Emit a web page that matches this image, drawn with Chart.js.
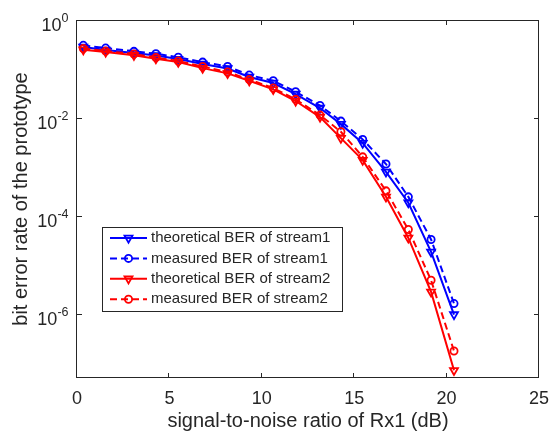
<!DOCTYPE html>
<html>
<head>
<meta charset="utf-8">
<script src="https://cdn.jsdelivr.net/npm/chart.js@4.4.1/dist/chart.umd.min.js"></script>
<style>
  body { margin: 0; background: #fff; }
  canvas { display: block; }
</style>
</head>
<body>
<canvas id="myChart" width="550" height="433"></canvas>
<script>
// SNR values (dB) of the measurement points
const snr = [0.34, 1.55, 3.08, 4.27, 5.48, 6.80, 8.15, 9.32, 10.62, 11.83, 13.15, 14.28, 15.46, 16.72, 17.93, 19.16, 20.40];
// BER curves
const berTheory1 = [0.280, 0.244, 0.211, 0.188, 0.159, 0.126, 0.102, 0.0683, 0.0515, 0.0307, 0.0159, 0.00746, 0.00305, 7.9e-4, 1.85e-4, 1.83e-5, 9.6e-7];
const berMeasured1 = [0.304, 0.267, 0.229, 0.205, 0.173, 0.138, 0.112, 0.075, 0.0574, 0.0342, 0.0179, 0.0086, 0.00364, 0.00114, 2.44e-4, 3.28e-5, 1.61e-6];
const berTheory2 = [0.247, 0.222, 0.190, 0.162, 0.138, 0.104, 0.0813, 0.0574, 0.0383, 0.0221, 0.0104, 0.00386, 0.00137, 2.44e-4, 3.53e-5, 2.78e-6, 6.96e-8];
const berMeasured2 = [0.261, 0.232, 0.202, 0.171, 0.145, 0.112, 0.0864, 0.0607, 0.0407, 0.0239, 0.0114, 0.0052, 0.0016, 3.23e-4, 5.25e-5, 4.82e-6, 1.73e-7];
// axis ticks
const xTicks = [0, 5, 10, 15, 20, 25];
const yTickExps = [0, -2, -4, -6];
const seriesNames = ['theoretical BER of stream1', 'measured BER of stream1', 'theoretical BER of stream2', 'measured BER of stream2'];

const FONT = '"Liberation Sans", Arial, Helvetica, sans-serif';
const TEXT = '#262626';

function toPoints(ys) {
    return ys.map((y, i) => ({ x: snr[i], y: y }));
}

function makeSet(label, ys, color, dashed, marker, order) {
    return {
        label: label,
        data: toPoints(ys),
        borderColor: color,
        backgroundColor: 'rgba(0,0,0,0)',
        borderWidth: 2,
        borderDash: dashed ? [7, 4] : [],
        pointStyle: marker === 'v' ? 'triangle' : 'circle',
        rotation: marker === 'v' ? 180 : 0,
        pointRadius: marker === 'v' ? 4.6 : 3.6,
        pointBorderWidth: 1.8,
        pointBorderColor: color,
        pointBackgroundColor: 'rgba(0,0,0,0)',
        tension: 0,
        order: order
    };
}

const datasets = [
    makeSet(seriesNames[0], berTheory1, '#0000ff', false, 'v', 4),
    makeSet(seriesNames[1], berMeasured1, '#0000ff', true, 'o', 3),
    makeSet(seriesNames[2], berTheory2, '#ff0000', false, 'v', 2),
    makeSet(seriesNames[3], berMeasured2, '#ff0000', true, 'o', 1)
];

function drawMarker(ctx, marker, cx, cy, color) {
    ctx.save();
    ctx.strokeStyle = color;
    ctx.lineWidth = 1.8;
    ctx.setLineDash([]);
    ctx.beginPath();
    if (marker === 'v') {
        const r = 4.6;
        ctx.moveTo(cx - r * 0.866, cy - r * 0.5);
        ctx.lineTo(cx + r * 0.866, cy - r * 0.5);
        ctx.lineTo(cx, cy + r);
        ctx.closePath();
    } else {
        ctx.arc(cx, cy, 3.6, 0, Math.PI * 2);
    }
    ctx.stroke();
    ctx.restore();
}

// MATLAB-like axes box, ticks, labels and legend
const matlabAxes = {
    id: 'matlabAxes',
    afterDraw(chart) {
        const ctx = chart.ctx;
        const a = chart.chartArea;
        const xs = chart.scales.x;
        const ys = chart.scales.y;
        ctx.save();

        // box
        ctx.strokeStyle = TEXT;
        ctx.lineWidth = 1;
        ctx.strokeRect(a.left - 0.5, a.top + 0.5, a.right - a.left, a.bottom - a.top - 1);

        // ticks (inward) and labels
        ctx.fillStyle = TEXT;
        ctx.font = '18px ' + FONT;
        ctx.textAlign = 'center';
        ctx.textBaseline = 'alphabetic';
        xTicks.forEach(v => {
            const px = Math.round(xs.getPixelForValue(v)) - 0.5;
            ctx.beginPath();
            ctx.moveTo(px, a.bottom);
            ctx.lineTo(px, a.bottom - 5);
            ctx.moveTo(px, a.top);
            ctx.lineTo(px, a.top + 5);
            ctx.stroke();
            ctx.fillText(String(v), xs.getPixelForValue(v), 404);
        });

        yTickExps.forEach(e => {
            const py = Math.round(ys.getPixelForValue(Math.pow(10, e))) + 0.5;
            ctx.beginPath();
            ctx.moveTo(a.left, py);
            ctx.lineTo(a.left + 5, py);
            ctx.moveTo(a.right, py);
            ctx.lineTo(a.right - 5, py);
            ctx.stroke();
            const expText = String(e);
            ctx.textAlign = 'right';
            ctx.font = '12.5px ' + FONT;
            const expRight = a.left - 8.5;
            ctx.fillText(expText, expRight, py + 1.5);
            const expW = ctx.measureText(expText).width;
            ctx.font = '18px ' + FONT;
            ctx.fillText('10', expRight - expW, py + 10);
        });

        // axis titles
        ctx.font = '20px ' + FONT;
        ctx.textAlign = 'center';
        ctx.fillText('signal-to-noise ratio of Rx1 (dB)', (a.left + a.right) / 2, 427);
        ctx.save();
        ctx.translate(27, (a.top + a.bottom) / 2);
        ctx.rotate(-Math.PI / 2);
        ctx.fillText('bit error rate of the prototype', 0, 0);
        ctx.restore();

        // legend
        const lx = 102.5, ly = 227.5, lw = 240, lh = 84;
        ctx.fillStyle = '#ffffff';
        ctx.fillRect(lx, ly, lw, lh);
        ctx.strokeStyle = TEXT;
        ctx.lineWidth = 1;
        ctx.strokeRect(lx, ly, lw, lh);
        ctx.font = '15px ' + FONT;
        ctx.textAlign = 'left';
        ctx.textBaseline = 'middle';
        chart.data.datasets.forEach((ds, i) => {
            const ry = 238 + i * 20.4;
            ctx.save();
            ctx.strokeStyle = ds.borderColor;
            ctx.lineWidth = 2;
            ctx.setLineDash(ds.borderDash);
            ctx.beginPath();
            ctx.moveTo(110, ry);
            ctx.lineTo(147, ry);
            ctx.stroke();
            ctx.restore();
            drawMarker(ctx, ds.pointStyle === 'triangle' ? 'v' : 'o', 128.5, ry, ds.borderColor);
            ctx.fillStyle = TEXT;
            ctx.fillText(ds.label, 151, ry);
        });

        ctx.restore();
    }
};

const config = {
    type: 'line',
    data: { datasets: datasets },
    options: {
        responsive: false,
        animation: false,
        devicePixelRatio: 1,
        layout: {
            padding: { left: 77, top: 20, right: 11, bottom: 55 }
        },
        plugins: {
            legend: { display: false },
            tooltip: { enabled: false }
        },
        scales: {
            x: {
                type: 'linear',
                min: 0,
                max: 25,
                display: false
            },
            y: {
                type: 'logarithmic',
                min: Math.pow(10, -7.314),
                max: 1,
                display: false
            }
        }
    },
    plugins: [matlabAxes]
};

const myChart = new Chart(document.getElementById('myChart'), config);
</script>
</body>
</html>
